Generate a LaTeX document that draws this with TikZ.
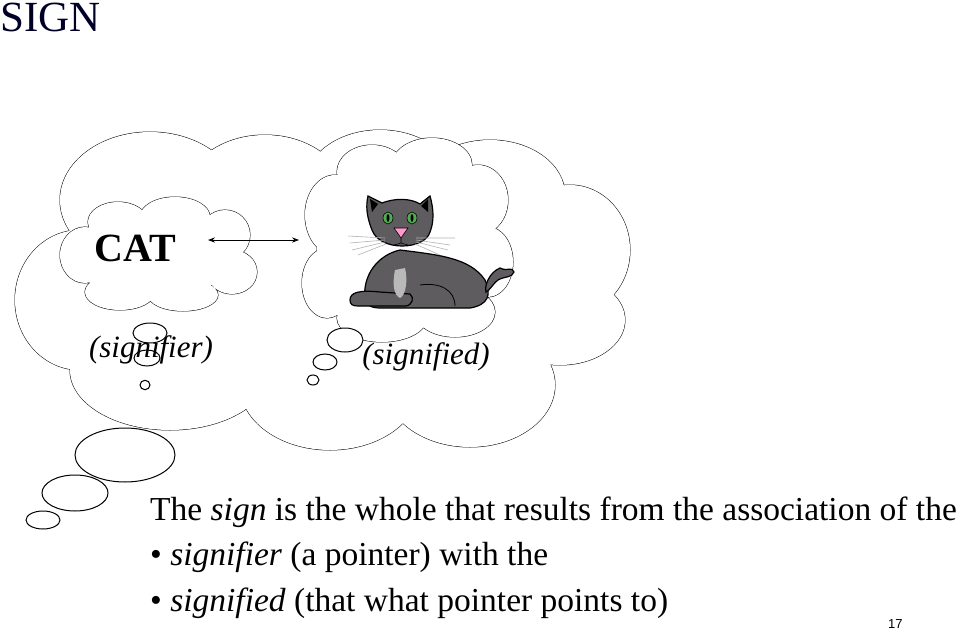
\documentclass[tikz,border=0pt]{standalone}
\usepackage{fontspec}
\setmainfont{Liberation Serif}
\newfontfamily\sansf{Liberation Sans}
\usetikzlibrary{arrows.meta,shapes.geometric}
\begin{document}
\begin{tikzpicture}[x=1pt,y=-1pt,
  ol/.style={draw=black,line width=1pt,fill=white},
  catfill/.style={fill=catgray,draw=black,line width=1.2pt},
  txt/.style={inner sep=0pt,anchor=base west}]
\definecolor{catgray}{HTML}{5F5C5F}
\useasboundingbox (0,0) rectangle (959,629);
% big cloud
\def\bigc{(80,300) ellipse [x radius=65,y radius=70]
 (150,200) ellipse [x radius=90,y radius=68]
 (265,195) ellipse [x radius=80,y radius=60]
 (380,185) ellipse [x radius=75,y radius=55]
 (490,195) ellipse [x radius=75,y radius=55]
 (570,250) ellipse [x radius=60,y radius=65]
 (560,320) ellipse [x radius=65,y radius=45]
 (470,385) ellipse [x radius=85,y radius=62]
 (330,385) ellipse [x radius=90,y radius=65]
 (170,370) ellipse [x radius=100,y radius=60]
 (320,290) ellipse [x radius=230,y radius=110]}
\draw[line width=1pt] \bigc;
\fill[white] \bigc;
% tail bubbles
\node (b1) [ol,ellipse,minimum width=100,minimum height=54] at (125,455) {};
\node (b2) [ol,ellipse,minimum width=66,minimum height=36] at (75,493) {};
\node (b3) [ol,ellipse,minimum width=34,minimum height=18] at (43,520) {};
% left inner cloud
\def\lc{(85,255) ellipse [x radius=25,y radius=28]
 (118,222) ellipse [x radius=30,y radius=20]
 (175,217) ellipse [x radius=35,y radius=20]
 (225,235) ellipse [x radius=25,y radius=25]
 (232,272) ellipse [x radius=25,y radius=22]
 (183,295) ellipse [x radius=35,y radius=16]
 (120,292) ellipse [x radius=35,y radius=18]
 (157,257) ellipse [x radius=80,y radius=38]}
\draw[line width=1pt] \lc;
\fill[white] \lc;
% right inner cloud
\def\rc{(335,215) ellipse [x radius=30,y radius=40]
 (372,172) ellipse [x radius=35,y radius=27]
 (432,165) ellipse [x radius=40,y radius=27]
 (478,200) ellipse [x radius=30,y radius=35]
 (488,262) ellipse [x radius=25,y radius=35]
 (455,312) ellipse [x radius=40,y radius=25]
 (382,318) ellipse [x radius=45,y radius=24]
 (327,283) ellipse [x radius=25,y radius=35]
 (405,245) ellipse [x radius=88,y radius=82]}
\draw[line width=1pt] \rc;
\fill[white] \rc;
% small bubbles
\node (s1) [ol,ellipse,minimum width=34,minimum height=20] at (150,333) {};
\node (s2) [ol,ellipse,minimum width=26,minimum height=16] at (147,358) {};
\node (s3) [ol,ellipse,minimum width=10,minimum height=8] at (145,385) {};
\node (r1) [ol,ellipse,minimum width=36,minimum height=24] at (345,340) {};
\node (r2) [ol,ellipse,minimum width=24,minimum height=16] at (325,362) {};
\node (r3) [ol,ellipse,minimum width=12,minimum height=10] at (313,380) {};
% texts
\node (cat) [inner sep=0pt,font=\fontsize{40}{44}\selectfont\bfseries] at (135,248) {CAT};
\node (sigr) [inner sep=0pt,font=\fontsize{31}{36}\selectfont\itshape] at (151,350) {(signifier)};
\node (sigd) [inner sep=0pt,font=\fontsize{31}{36}\selectfont\itshape] at (426,357) {(signified)};
\coordinate (pa) at (208,240);
\coordinate (pb) at (299,240);
\draw[{Stealth[length=7pt]}-{Stealth[length=7pt]},line width=0.9pt] (pa) -- (pb);
% cat
\begin{scope}
\draw[catfill] (365,300) .. controls (362,275) and (378,255) .. (400,250)
 .. controls (440,255) and (470,258) .. (485,280)
 .. controls (492,295) and (488,305) .. (470,308)
 -- (380,308) .. controls (370,308) and (366,304) .. (365,300) -- cycle;
\draw[catfill] (500,268) .. controls (508,272) and (512,266) .. (514,272)
 .. controls (512,278) and (505,276) .. (498,280)
 .. controls (492,285) and (490,290) .. (486,292)
 .. controls (484,285) and (490,272) .. (500,268) -- cycle;
\draw[catfill] (350,300) .. controls (350,292) and (360,290) .. (380,292)
 -- (410,294) .. controls (415,298) and (412,306) .. (405,306)
 -- (358,306) .. controls (352,306) and (350,304) .. (350,300) -- cycle;
\draw[black,line width=0.8pt] (420,285) .. controls (440,282) and (455,290) .. (455,306);
\fill[gray!55] (395,270) .. controls (392,285) and (394,295) .. (400,298)
 .. controls (406,295) and (408,280) .. (405,268) -- cycle;
\draw[catfill] (372,230) .. controls (366,215) and (366,205) .. (368,196)
 -- (382,203) .. controls (395,198) and (410,198) .. (420,204)
 -- (430,196) .. controls (434,210) and (434,222) .. (430,232)
 .. controls (425,250) and (380,252) .. (372,230) -- cycle;
\fill[black] (370,199) -- (378,204) -- (372,212) -- cycle;
\fill[black] (428,199) -- (421,206) -- (428,212) -- cycle;
\draw[fill=green!35!gray,line width=0.6pt] (388,218) ellipse [x radius=5,y radius=6];
\draw[fill=green!35!gray,line width=0.6pt] (412,218) ellipse [x radius=5,y radius=6];
\fill[black] (388,218) ellipse [x radius=1.5,y radius=4];
\fill[black] (412,218) ellipse [x radius=1.5,y radius=4];
\draw[fill=pink!80!magenta,line width=0.6pt] (394,228) -- (408,228) -- (401,238) -- cycle;
\draw[line width=0.6pt] (401,238) -- (401,243) (394,245) .. controls (398,244) .. (401,243) .. controls (404,244) .. (408,245);
\draw[gray!60,line width=0.6pt] (385,238) -- (348,236) (385,240) -- (350,243) (385,242) -- (352,250) (386,244) -- (358,255)
 (416,238) -- (455,238) (416,240) -- (450,245) (416,242) -- (448,250) (415,244) -- (440,255);
\end{scope}
% title and body text
\node (title) [txt,font=\fontsize{43}{46}\selectfont,text=black!75!blue!60!black] at (0,31) {SIGN};
\node (t1) [txt,font=\fontsize{33.5}{38}\selectfont] at (150,520) {The \textit{sign} is the whole that results from the association of the};
\node (t2) [txt,font=\fontsize{33.5}{38}\selectfont] at (150,565) {\textbullet\ \textit{signifier} (a pointer) with the};
\node (t3) [txt,font=\fontsize{33.5}{38}\selectfont] at (150,611) {\textbullet\ \textit{signified} (that what pointer points to)};
\node (pg) [txt,font=\sansf\fontsize{13}{15}\selectfont] at (888,628) {17};
\end{tikzpicture}
\end{document}
